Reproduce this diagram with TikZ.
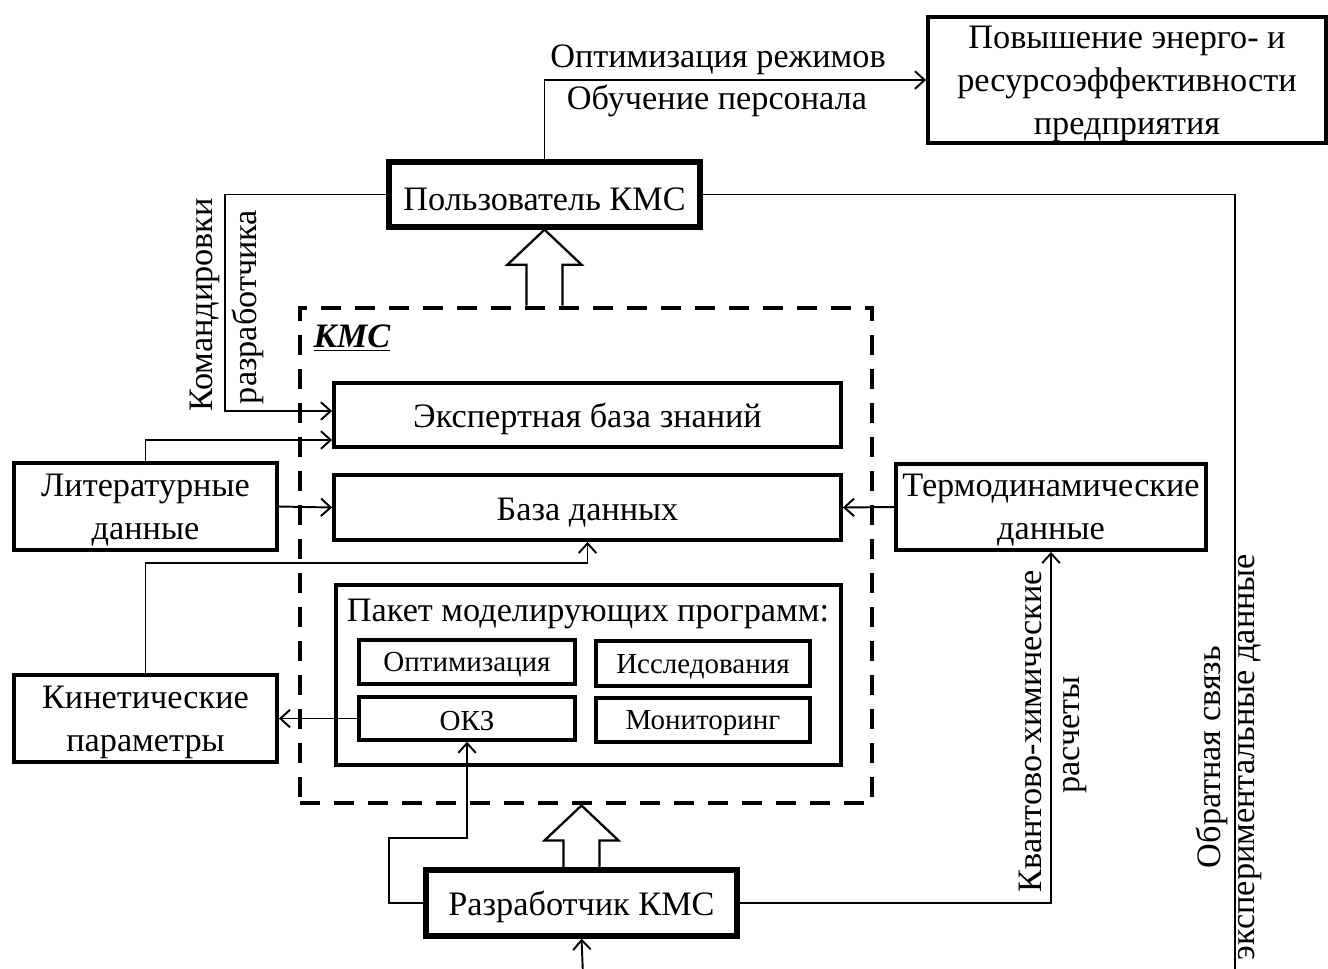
\documentclass[tikz,border=0pt]{standalone}
\usepackage{fontspec}
\setmainfont{Liberation Serif}
\usetikzlibrary{arrows.meta,calc}

\newdimen\pix \pix=0.02cm

\def\fatarrow#1#2{%
  \draw[fat] ($(#1)+(-18,0)$) -- ($(#2)+(-18,35)$) -- ($(#2)+(-37,35)$) -- (#2)
    -- ($(#2)+(37,35)$) -- ($(#2)+(18,35)$) -- ($(#1)+(18,0)$);
}

\tikzset{
  box/.style={draw,line width=2.2pt,inner sep=0pt,align=center,
    execute at begin node={\rule{0pt}{18.5pt}}},
  twobox/.style={box,text depth=-4pt},
  boldbox/.style={box,line width=3pt},
  subbox/.style={draw,line width=2pt,inner sep=0pt,font=\fontsize{16.5}{20}\selectfont,
    execute at begin node={\rule{0pt}{14pt}}},
  kmsbox/.style={draw,line width=2.8pt,dash pattern=on 20\pix off 14\pix,inner sep=0pt},
  conn/.style={line width=1.1pt,>={Straight Barb[length=5.5pt,width=10pt]}},
  fat/.style={line width=1.3pt,line join=miter},
  lbl/.style={inner sep=0pt},
  vlbl/.style={inner sep=0pt,rotate=90}
}

\begin{document}
\begin{tikzpicture}[x=0.02cm,y=-0.02cm,font=\fontsize{19.5}{24.5}\selectfont]
\useasboundingbox (0,0) rectangle (1328,968);

% boxes
\draw (1127,80) node[twobox,text depth=-8pt,minimum width=398\pix,minimum height=126\pix] (eff)
  {Повышение энерго- и\\ресурсоэффективности\\предприятия};
\draw (544.5,194.5) node[boldbox,minimum width=311\pix,minimum height=65\pix] (user) {Пользователь КМС};
\draw (586,555.5) node[kmsbox,minimum width=572\pix,minimum height=495\pix] (kms) {};
\draw (352,338) node[lbl] (kmsname) {\underline{\textbf{\textit{КМС}}}};
\draw (587.5,415) node[box,minimum width=507\pix,minimum height=64\pix] (expert) {Экспертная база знаний};
\draw (587.5,507.5) node[box,minimum width=507\pix,minimum height=65\pix] (db) {База данных};
\draw (588.5,675) node[box,minimum width=505\pix,minimum height=180\pix] (pkg) {};
\draw (588,614) node[lbl] (pkgname) {Пакет моделирующих программ:};
\draw (467,662) node[subbox,minimum width=216\pix,minimum height=44\pix] (opt) {Оптимизация};
\draw (703,663.5) node[subbox,minimum width=214\pix,minimum height=45\pix] (res) {Исследования};
\draw (467,718.5) node[subbox,minimum width=216\pix,minimum height=43\pix] (okz) {ОКЗ};
\draw (703,720) node[subbox,minimum width=214\pix,minimum height=44\pix] (mon) {Мониторинг};
\draw (145.5,506.5) node[twobox,minimum width=263\pix,minimum height=87\pix] (lit) {Литературные\\данные};
\draw (145.5,718.5) node[twobox,minimum width=263\pix,minimum height=87\pix] (kin) {Кинетические\\параметры};
\draw (1051,507) node[twobox,minimum width=310\pix,minimum height=86\pix] (thermo) {Термодинамические\\данные};
\draw (581.5,903) node[boldbox,minimum width=311\pix,minimum height=66\pix] (dev) {Разработчик КМС};

% big arrows
\coordinate (usertail) at (user.south |- kms.north);
\coordinate (devtip) at (dev.north |- kms.south);
\fatarrow{usertail}{user.south}
\fatarrow{dev.north}{devtip}

% connectors
\draw[conn,->] (user.north) |- (eff.west);
\draw (718,60) node[lbl] (l1) {Оптимизация режимов};
\draw (717,101) node[lbl] (l2) {Обучение персонала};

\draw[conn,->] (user.west) -- ++(-161,0) |- ([yshift=4\pix]expert.west);
\draw (205,305) node[vlbl] (l3) {Командировки};
\draw (248,307) node[vlbl] (l4) {разработчика};

\draw[conn,->] (lit.north) |- ([yshift=-25\pix]expert.west);
\draw[conn,->] (lit.east) -- (db.west);
\draw[conn,->] (thermo.west) -- (db.east);
\draw[conn,->] (kin.north) -- ++(0,-110) -| (db.south);
\draw[conn,->] (okz.west) -- (kin.east);
\draw[conn,->] (dev.west) -- ++(-34,0) -- ++(0,-65) -| (okz.south);

\draw[conn,->] (dev.east) -| (thermo.south);
\draw (1030,731) node[vlbl] (l5) {Квантово-химические};
\draw (1075,735) node[vlbl] (l6) {расчеты};

\draw[conn] (user.east) -- ++(532,0) -- ++(0,790);
\draw (1212,757) node[vlbl] (l7) {Обратная связь};
\draw (1250,757) node[vlbl] (l8) {экспериментальные данные};

\coordinate (fb) at (583,975);
\draw[conn,->] (fb) -- (dev.south);
\end{tikzpicture}
\end{document}
